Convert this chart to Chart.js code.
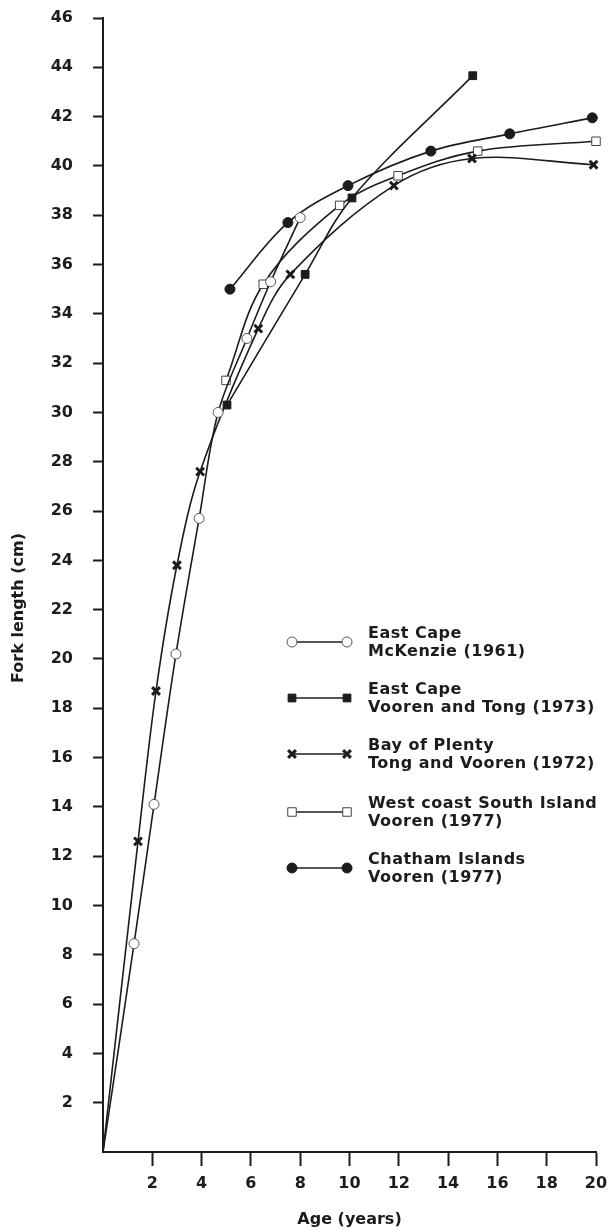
<!DOCTYPE html>
<html>
<head>
<meta charset="utf-8">
<script src="https://cdn.jsdelivr.net/npm/chart.js@4.4.1/dist/chart.umd.min.js"></script>
<style>
  html, body { margin: 0; padding: 0; background: #fff; }
  #wrap { position: relative; width: 613px; height: 1230px; }
</style>
</head>
<body>
<div id="wrap"><canvas id="growth-chart"></canvas></div>
<script>
// Growth curves - fork length against age, five studies

const xTicks = [2, 4, 6, 8, 10, 12, 14, 16, 18, 20];
const yTicks = [2, 4, 6, 8, 10, 12, 14, 16, 18, 20, 22, 24, 26, 28, 30, 32, 34, 36, 38, 40, 42, 44, 46];

// East Cape, McKenzie (1961) - open circles
const mckAge = [0, 1.26, 2.07, 2.96, 3.9, 4.67, 5.84, 6.8, 8.0];
const mckLength = [0, 8.45, 14.1, 20.2, 25.7, 30.0, 33.0, 35.3, 37.9];

// East Cape, Vooren and Tong (1973) - filled squares
const vtAge = [5.03, 8.2, 10.1, 15.0];
const vtLength = [30.3, 35.6, 38.7, 43.66];

// Bay of Plenty, Tong and Vooren (1972) - crosses
const bopAge = [0, 1.42, 2.15, 3.0, 3.94, 6.3, 7.6, 11.8, 14.97, 19.9];
const bopLength = [0, 12.6, 18.7, 23.8, 27.6, 33.4, 35.6, 39.2, 40.3, 40.05];

// West coast South Island, Vooren (1977) - open squares
const wcAge = [4.99, 6.5, 9.6, 11.97, 15.2, 20.0];
const wcLength = [31.3, 35.2, 38.4, 39.6, 40.6, 41.0];

// Chatham Islands, Vooren (1977) - filled circles
const chAge = [5.15, 7.5, 9.94, 13.3, 16.5, 19.85];
const chLength = [35.0, 37.7, 39.2, 40.6, 41.3, 41.95];

const legendLines = [
    ['East Cape', 'McKenzie (1961)'],
    ['East Cape', 'Vooren and Tong (1973)'],
    ['Bay of Plenty', 'Tong and Vooren (1972)'],
    ['West coast South Island', 'Vooren (1977)'],
    ['Chatham Islands', 'Vooren (1977)']
];

const INK = '#1c1c1c';
const FONT = '"DejaVu Sans", sans-serif';

function toPoints(ages, lengths) {
    return ages.map((a, i) => ({ x: a, y: lengths[i] }));
}

// marker styles, shared by the plot and the legend
const markers = [
    { pointStyle: 'circle', radius: 5, fill: '#fff', stroke: '#555', width: 1 },
    { pointStyle: 'rect', radius: 5.5, fill: INK, stroke: INK, width: 1 },
    { pointStyle: 'crossRot', radius: 5.5, fill: INK, stroke: INK, width: 3 },
    { pointStyle: 'rect', radius: 6, fill: '#fff', stroke: '#444', width: 1 },
    { pointStyle: 'circle', radius: 5, fill: INK, stroke: INK, width: 1 }
];

const series = [
    toPoints(mckAge, mckLength),
    toPoints(vtAge, vtLength),
    toPoints(bopAge, bopLength),
    toPoints(wcAge, wcLength),
    toPoints(chAge, chLength)
];

const datasets = series.map((pts, i) => ({
    label: legendLines[i].join(' '),
    data: pts,
    borderColor: INK,
    borderWidth: 1.6,
    tension: 0.35,
    fill: false,
    clip: false,
    pointStyle: markers[i].pointStyle,
    // curves that start at the origin carry no marker there
    pointRadius: (c) => (c.raw && c.raw.x === 0 ? 0 : markers[i].radius),
    pointBackgroundColor: markers[i].fill,
    pointBorderColor: markers[i].stroke,
    pointBorderWidth: markers[i].width,
    pointHoverRadius: 0
}));

// draws the legend block and the vertical axis title
const annotationsPlugin = {
    id: 'annotations',
    afterDraw(chart) {
        const ctx = chart.ctx;
        ctx.save();

        // y axis title
        ctx.translate(19, 608);
        ctx.rotate(-Math.PI / 2);
        ctx.fillStyle = INK;
        ctx.font = 'bold 16px ' + FONT;
        ctx.textAlign = 'center';
        ctx.textBaseline = 'middle';
        ctx.fillText('Fork length (cm)', 0, 0);
        ctx.setTransform(1, 0, 0, 1, 0, 0);

        // legend
        const rowY = [642, 698, 754, 812, 868];
        const x0 = 292, x1 = 347, textX = 368;
        legendLines.forEach((lines, i) => {
            const y = rowY[i];
            const m = markers[i];
            ctx.strokeStyle = INK;
            ctx.lineWidth = 1.6;
            ctx.beginPath();
            ctx.moveTo(x0, y);
            ctx.lineTo(x1, y);
            ctx.stroke();
            [x0, x1].forEach((mx) => {
                ctx.fillStyle = m.fill;
                ctx.strokeStyle = m.stroke;
                ctx.lineWidth = m.width;
                Chart.helpers.drawPoint(ctx, {
                    pointStyle: m.pointStyle,
                    radius: m.radius,
                    borderWidth: m.width,
                    rotation: 0
                }, mx, y);
            });
            ctx.fillStyle = INK;
            ctx.font = 'bold 16px ' + FONT;
            ctx.letterSpacing = '0.5px';
            ctx.textAlign = 'left';
            ctx.textBaseline = 'middle';
            ctx.fillText(lines[0], textX, y - 8);
            ctx.fillText(lines[1], textX, y + 10);
            ctx.letterSpacing = '0px';
        });

        ctx.restore();
    }
};

const hideZero = (c) => (c.tick && c.tick.value === 0 ? 'rgba(0,0,0,0)' : INK);

const ctx = document.getElementById('growth-chart').getContext('2d');
window.growthChart = new Chart(ctx, {
    type: 'line',
    data: { datasets: datasets },
    options: {
        responsive: true,
        maintainAspectRatio: false,
        animation: false,
        layout: {
            padding: { top: 18, right: 17, bottom: 0, left: 0 }
        },
        plugins: {
            legend: { display: false },
            tooltip: { enabled: false }
        },
        scales: {
            x: {
                type: 'linear',
                min: 0,
                max: 20,
                afterBuildTicks: (scale) => {
                    scale.ticks = [0].concat(xTicks).map((v) => ({ value: v }));
                },
                afterFit: (scale) => {
                    scale.height = 78;
                    scale.paddingLeft = 0;
                    scale.paddingRight = 0;
                },
                ticks: {
                    color: INK,
                    font: { family: FONT, size: 16, weight: 'bold' },
                    padding: 8,
                    maxRotation: 0,
                    callback: (v) => (v === 0 ? '' : v)
                },
                grid: {
                    drawOnChartArea: false,
                    drawTicks: true,
                    tickLength: 14,
                    tickWidth: 2,
                    tickColor: hideZero
                },
                border: { color: INK, width: 2 },
                title: {
                    display: true,
                    text: 'Age (years)',
                    color: INK,
                    font: { family: FONT, size: 16, weight: 'bold' },
                    padding: { top: 0, bottom: 1 }
                }
            },
            y: {
                type: 'linear',
                min: 0,
                max: 46,
                afterBuildTicks: (scale) => {
                    scale.ticks = [0].concat(yTicks).map((v) => ({ value: v }));
                },
                afterFit: (scale) => {
                    scale.width = 103;
                    scale.paddingTop = 0;
                    scale.paddingBottom = 0;
                },
                ticks: {
                    color: INK,
                    font: { family: FONT, size: 16, weight: 'bold' },
                    padding: 20,
                    callback: (v) => (v === 0 ? '' : v)
                },
                grid: {
                    drawOnChartArea: false,
                    drawTicks: true,
                    tickLength: 10,
                    tickWidth: 2,
                    tickColor: hideZero
                },
                border: { color: INK, width: 2 }
            }
        }
    },
    plugins: [annotationsPlugin]
});
</script>
</body>
</html>
